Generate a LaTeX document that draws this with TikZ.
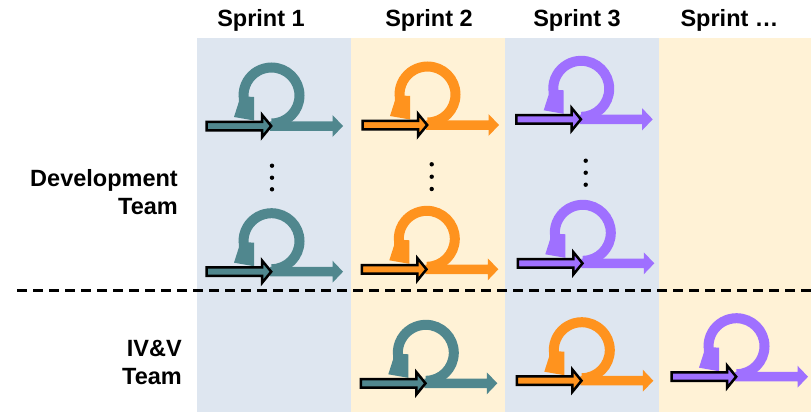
\documentclass[tikz,border=0pt]{standalone}
\usepackage{fontspec}
\setmainfont{Liberation Sans}
\definecolor{tealc}{HTML}{50878E}
\definecolor{orangec}{HTML}{FF931E}
\definecolor{purplec}{HTML}{9F70FF}
\definecolor{bluebg}{HTML}{DEE6F0}
\definecolor{creambg}{HTML}{FFF2D6}
\tikzset{
  pics/loopicon/.style={code={
    \draw[#1, line width=10pt] (-1.5,30.5) ++(-90:28) arc[start angle=-90, end angle=184, radius=28];
    \fill[#1] (-34.2,30) -- (-34.2,24) -- (-39,9) -- (-19,5.5) -- (-19,29) -- cycle;
    \fill[#1] (-3,4.75) -- (59.5,4.75) -- (59.5,11) -- (70,0) -- (59.5,-11) -- (59.5,-4.75) -- (-3,-4.75) -- cycle;
    \filldraw[fill=#1, draw=black, line width=2.5pt, line join=miter]
      (-66.4,4.25) -- (-11,4.25) -- (-11,11.25) -- (-1.8,0) -- (-11,-11.25) -- (-11,-4.25) -- (-66.4,-4.25) -- cycle;
  }},
  head/.style={font=\fontsize{23.5}{28}\selectfont\bfseries, inner sep=0pt, anchor=base},
  team/.style={font=\fontsize{23.5}{28}\selectfont\bfseries, inner sep=0pt, anchor=base east},
  dotmark/.style={fill=black},
  sep/.style={line width=3pt, dash pattern=on 9.5pt off 6.5pt}
}
\begin{document}
\begin{tikzpicture}[x=1pt, y=1pt]
\useasboundingbox (0,0) rectangle (811,-412);
% column backgrounds
\fill[bluebg]  (197,-38) rectangle (351,-412);
\fill[creambg] (351,-38) rectangle (505,-412);
\fill[bluebg]  (505,-38) rectangle (659,-412);
\fill[creambg] (659,-38) rectangle (811,-412);
% headers
\node[head] (s1) at (261,-27) {Sprint 1};
\node[head] (s2) at (429,-27) {Sprint 2};
\node[head] (s3) at (577,-27) {Sprint 3};
\node[head] (s4) at (729.5,-27) {Sprint …};
% row labels
\node[team] (dev1) at (178,-186) {Development};
\node[team] (dev2) at (178,-214) {Team};
\node[team] (ivv1) at (182,-356) {IV\&V};
\node[team] (ivv2) at (182,-384) {Team};
% separator
\draw[sep] (17,-290.7) -- (811,-290.7);
% development icons
\pic (d11) at (273,-126) {loopicon=tealc};
\pic (d12) at (273,-271.7) {loopicon=tealc};
\pic (d21) at (429,-125) {loopicon=orangec};
\pic (d22) at (428.3,-269.3) {loopicon=orangec};
\pic (d31) at (582.7,-119.3) {loopicon=purplec};
\pic (d32) at (584.3,-263.3) {loopicon=purplec};
% IV&V icons
\pic (v2) at (427.3,-383.3) {loopicon=tealc};
\pic (v3) at (583.3,-380.7) {loopicon=orangec};
\pic (v4) at (738,-376.7) {loopicon=purplec};
% vertical dots
\foreach \yy in {165.7,177.7,189.3} \fill[dotmark] (272,-\yy) circle (2.2);
\foreach \yy in {164.3,176.7,189} \fill[dotmark] (431.7,-\yy) circle (2.2);
\foreach \yy in {160.7,172.7,184.7} \fill[dotmark] (585.7,-\yy) circle (2.2);
\end{tikzpicture}
\end{document}
